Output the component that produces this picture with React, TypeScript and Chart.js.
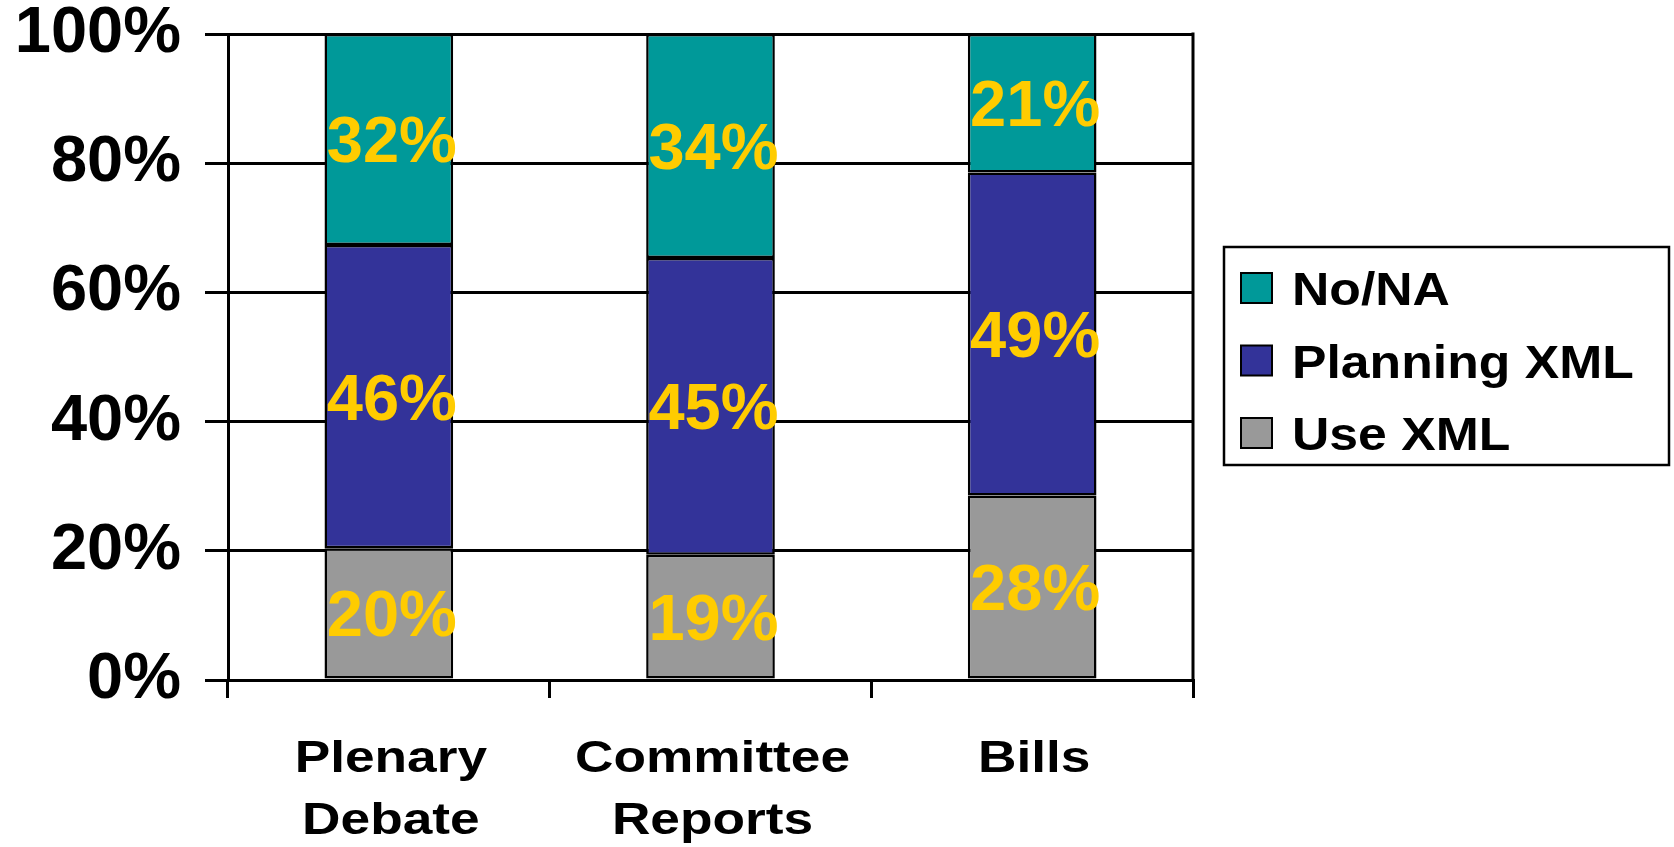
import React, { useEffect, useRef } from 'react';
import { Chart, registerables } from 'chart.js';

Chart.register(...registerables);

// ---- data ----
const categories: string[][] = [['Plenary', 'Debate'], ['Committee', 'Reports'], ['Bills']];
const seriesNames = ['Use XML', 'Planning XML', 'No/NA'];
const useXml = [20, 19, 28];
const planningXml = [46, 45, 49];
const noNa = [32, 34, 21];
const yTickValues = [0, 20, 40, 60, 80, 100];
const seriesColors = ['#999999', '#333399', '#009999'];

const FONT = '"Liberation Sans", Arial, Helvetica, sans-serif';

const rawSeries = [useXml, planningXml, noNa];
const totals = categories.map((_, i) => rawSeries.reduce((s, arr) => s + arr[i], 0));
const shares = rawSeries.map((arr) => arr.map((v, i) => (v / totals[i]) * 100));

function drawScaled(ctx: any, text: string, x: number, y: number, sx: number, align: string) {
  ctx.save();
  ctx.translate(x, y);
  ctx.scale(sx, 1);
  ctx.textAlign = align;
  ctx.fillText(text, 0, 0);
  ctx.restore();
}

const borderPlugin = {
  id: 'plotBorder',
  afterDraw(chart: any) {
    const { ctx, chartArea } = chart;
    ctx.save();
    ctx.strokeStyle = '#000';
    ctx.lineWidth = 3;
    ctx.beginPath();
    ctx.moveTo(chartArea.right, chartArea.top - 1.5);
    ctx.lineTo(chartArea.right, chartArea.bottom);
    ctx.stroke();
    ctx.restore();
  },
};

const dataLabelPlugin = {
  id: 'dataLabels',
  afterDatasetsDraw(chart: any) {
    const { ctx } = chart;
    ctx.save();
    ctx.fillStyle = '#FFCC00';
    ctx.font = `bold 65px ${FONT}`;
    ctx.textBaseline = 'alphabetic';
    chart.data.datasets.forEach((ds: any, di: number) => {
      const meta = chart.getDatasetMeta(di);
      meta.data.forEach((el: any, j: number) => {
        const cy = (el.y + el.base) / 2;
        drawScaled(ctx, rawSeries[di][j] + '%', el.x + 3, cy + 23, 1, 'center');
      });
    });
    ctx.restore();
  },
};

const xLabelPlugin = {
  id: 'xLabels',
  afterDraw(chart: any) {
    const { ctx, chartArea } = chart;
    const xs = chart.scales.x;
    ctx.save();
    ctx.fillStyle = '#000';
    ctx.font = `bold 44px ${FONT}`;
    ctx.textBaseline = 'alphabetic';
    (chart.data.labels as string[][]).forEach((lines, i) => {
      const x = xs.getPixelForValue(i) + 2;
      lines.forEach((line, k) => {
        drawScaled(ctx, line, x, chartArea.bottom + 92 + k * 62, 1.21, 'center');
      });
    });
    ctx.restore();
  },
};

const legendPlugin = {
  id: 'boxLegend',
  afterDraw(chart: any) {
    const { ctx } = chart;
    const left = 1224, top = 247, width = 445, height = 218;
    ctx.save();
    ctx.fillStyle = '#fff';
    ctx.fillRect(left, top, width, height);
    ctx.strokeStyle = '#000';
    ctx.lineWidth = 2.5;
    ctx.strokeRect(left, top, width, height);
    const items = chart.data.datasets.map((d: any) => d).reverse();
    ctx.font = `bold 47px ${FONT}`;
    ctx.textBaseline = 'alphabetic';
    items.forEach((ds: any, k: number) => {
      const cy = 288 + k * 72.5;
      ctx.fillStyle = ds.backgroundColor;
      ctx.fillRect(left + 17, cy - 15, 31, 30);
      ctx.lineWidth = 2;
      ctx.strokeStyle = '#000';
      ctx.strokeRect(left + 17, cy - 15, 31, 30);
      ctx.fillStyle = '#000';
      drawScaled(ctx, ds.label, left + 68, cy + 17, 1.1, 'left');
    });
    ctx.restore();
  },
};

export default function App() {
  const ref = useRef<HTMLCanvasElement | null>(null);

  useEffect(() => {
    if (!ref.current) return;
    const chart = new Chart(ref.current, {
      type: 'bar',
      data: {
        labels: categories as any,
        datasets: seriesNames.map((name, i) => ({
          label: name,
          data: shares[i],
          backgroundColor: seriesColors[i],
          borderColor: '#000',
          borderWidth: 2.5,
          borderSkipped: false,
          barPercentage: 0.4,
          categoryPercentage: 1,
        })),
      },
      options: {
        responsive: false,
        animation: false,
        events: [],
        layout: { padding: { top: 34, right: 481, left: 0, bottom: 0 } },
        plugins: {
          legend: { display: false },
          tooltip: { enabled: false },
          title: { display: false },
        },
        scales: {
          x: {
            stacked: true,
            offset: true,
            grid: {
              offset: true,
              drawOnChartArea: false,
              drawTicks: true,
              tickLength: 18,
              color: '#000',
              lineWidth: 3,
            },
            border: { display: true, color: '#000', width: 3 },
            ticks: { display: false },
            afterFit: (scale: any) => {
              scale.height = 167;
              scale.paddingLeft = 0;
              scale.paddingRight = 0;
            },
          },
          y: {
            stacked: true,
            min: 0,
            max: 100,
            afterBuildTicks: (scale: any) => {
              scale.ticks = yTickValues.map((v) => ({ value: v }));
            },
            grid: {
              color: '#000',
              lineWidth: 3,
              drawTicks: true,
              tickLength: 23,
            },
            border: { display: true, color: '#000', width: 3 },
            ticks: {
              color: '#000',
              padding: 24,
              font: { family: FONT, size: 65, weight: 'bold' },
              callback: (v: any) => v + '%',
            },
            afterFit: (scale: any) => {
              scale.width = 228;
              scale.paddingTop = 0;
              scale.paddingBottom = 0;
            },
          },
        },
      },
      plugins: [borderPlugin, dataLabelPlugin, xLabelPlugin, legendPlugin],
    } as any);
    return () => chart.destroy();
  }, []);

  return (
    <div style={{ position: 'fixed', left: 0, top: 0, width: 1674, height: 847, background: '#fff' }}>
      <canvas ref={ref} width={1674} height={847} style={{ display: 'block' }} />
    </div>
  );
}
